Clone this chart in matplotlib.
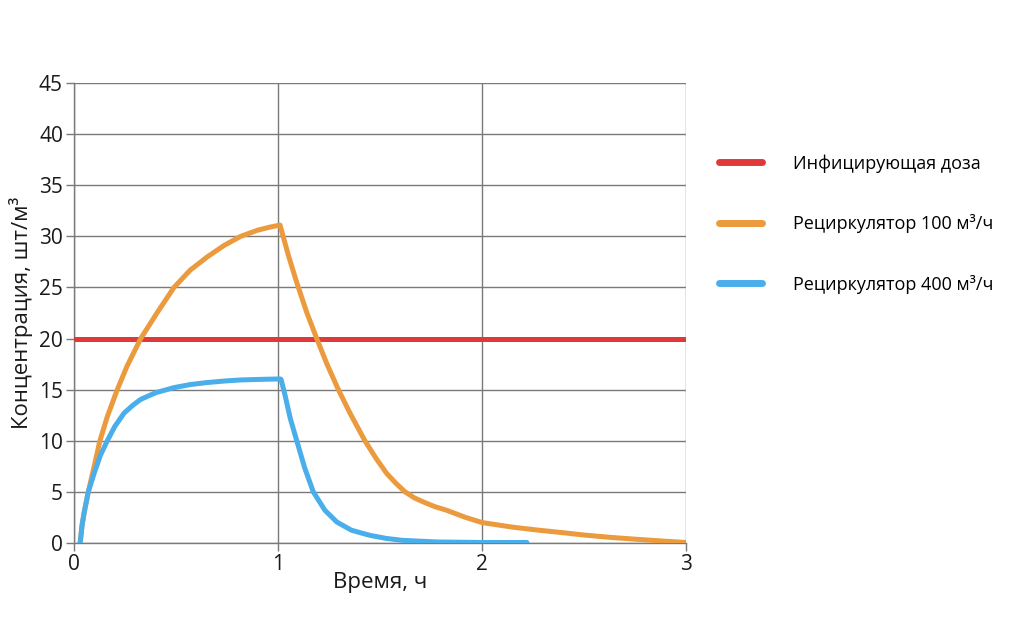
import matplotlib.pyplot as plt

plt.rcParams["font.family"] = ["Open Sans", "DejaVu Sans"]

# infecting dose threshold
dose_t = [0, 3]
dose_c = [20, 20]

# recirculator 100 m3/h
r100_t = [0.03, 0.04, 0.05, 0.07, 0.085, 0.10, 0.127, 0.163, 0.212, 0.26, 0.327,
          0.41, 0.49, 0.57, 0.654, 0.735, 0.817, 0.90, 0.96, 1.01,
          1.05, 1.09, 1.14, 1.19, 1.24, 1.296, 1.353, 1.426, 1.48, 1.533, 1.58,
          1.623, 1.67, 1.72, 1.77, 1.827, 1.92, 2.00, 2.15, 2.27, 2.40, 2.50,
          2.63, 2.76, 2.88, 3.00]
r100_c = [0.0, 1.8, 3.0, 5.0, 6.3, 7.6, 10.0, 12.35, 15.0, 17.3, 20.0,
          22.6, 25.0, 26.7, 28.0, 29.1, 30.0, 30.6, 30.9, 31.1,
          28.2, 25.6, 22.6, 20.0, 17.5, 15.0, 12.7, 10.0, 8.3, 6.8, 5.8,
          5.0, 4.4, 3.95, 3.55, 3.2, 2.5, 2.0, 1.55, 1.27, 1.0, 0.78,
          0.55, 0.36, 0.2, 0.05]

# recirculator 400 m3/h
r400_t = [0.03, 0.04, 0.05, 0.07, 0.10, 0.13, 0.163, 0.20, 0.245, 0.29,
          0.327, 0.40, 0.49, 0.57, 0.654, 0.74, 0.817, 0.90, 1.01,
          1.015, 1.034, 1.06, 1.092, 1.13, 1.173, 1.23, 1.288, 1.36, 1.45,
          1.53, 1.61, 1.78, 2.00, 2.22]
r400_c = [0.0, 1.8, 3.0, 5.0, 6.9, 8.6, 10.0, 11.4, 12.7, 13.5,
          14.05, 14.7, 15.2, 15.5, 15.7, 15.85, 15.95, 16.0, 16.05,
          16.0, 14.5, 12.2, 10.0, 7.4, 5.0, 3.2, 2.06, 1.25, 0.75,
          0.45, 0.26, 0.1, 0.05, 0.05]

fig = plt.figure(figsize=(10.24, 6.41), dpi=100)
ax = fig.add_axes([74 / 1024, 1 - 543 / 641, 612 / 1024, 460 / 641])

grid_col = "#7a7a7a"
ax.plot(dose_t, dose_c, color="#e0393a", lw=3.6, label="Инфицирующая доза", zorder=3)
ax.plot(r100_t, r100_c, color="#eb9b3d", lw=3.6, label="Рециркулятор 100 м³/ч",
        solid_capstyle="round", solid_joinstyle="round", zorder=4)
ax.plot(r400_t, r400_c, color="#4aaeea", lw=3.6, label="Рециркулятор 400 м³/ч",
        solid_capstyle="round", solid_joinstyle="round", zorder=5)

ax.set_xlim(0, 3)
ax.set_ylim(0, 45)
ax.set_xticks([0, 1, 2, 3])
ax.set_yticks(range(0, 46, 5))
ax.grid(True, color=grid_col, lw=1.0)
ax.set_axisbelow(True)
for side in ["top", "right"]:
    ax.spines[side].set_visible(False)
for side in ["left", "bottom"]:
    ax.spines[side].set_color(grid_col)
    ax.spines[side].set_linewidth(1.0)
ax.tick_params(axis="both", colors=grid_col, labelcolor="#1a1a1a", labelsize=15,
               length=6, width=1.0, pad=2)

ax.set_xlabel("Время, ч", fontsize=16, color="#1a1a1a", labelpad=-2)
ax.set_ylabel("Концентрация, шт/м³", fontsize=16, color="#1a1a1a", labelpad=4)

leg = ax.legend(loc="upper left", bbox_to_anchor=(703 / 1024, 1 - 138 / 641),
                bbox_transform=fig.transFigure, frameon=False, fontsize=13,
                handlelength=2.35, handletextpad=1.75, labelspacing=2.3)
for line in leg.get_lines():
    line.set_linewidth(5)
    line.set_solid_capstyle("round")

fig.savefig("out.png", dpi=100, facecolor="white")
